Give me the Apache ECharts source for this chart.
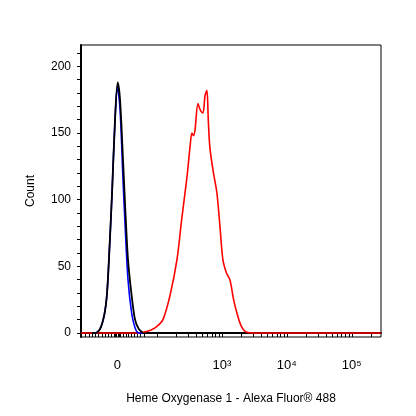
<!DOCTYPE html><html><head><meta charset="utf-8"><script src="https://cdn.jsdelivr.net/npm/echarts@6/dist/echarts.min.js"></script>
<style>body{margin:0}#c{width:416px;height:416px}</style></head><body><div id="c"></div><script>
// x in display decades (biexponential): 10^3 -> 3, 10^4 -> 4, "0" -> 1.39
const xTickValues=[1.39,3,4,5];
const xTickLabels=['0','10³','10⁴','10⁵'];
const yTickValues=[0,50,100,150,200];
const blackX=[1.00,1.046,1.123,1.19,1.231,1.27,1.308,1.354,1.395,1.431,1.477,1.51,1.554,1.61,1.662,1.72,1.785];
const blackY=[0,0,3,14,30,65,105,160,188,175,130,95,55,28,10,3,0];
const blueX=[1.00,1.046,1.123,1.19,1.231,1.27,1.308,1.354,1.39,1.431,1.477,1.51,1.554,1.61,1.662,1.72,1.785];
const blueY=[0,0,3,14,30,65,105,160,185,168,115,80,40,15,4,0,0];
const redX=[0.83,1.70,1.785,1.9,2.0,2.092,2.2,2.308,2.38,2.462,2.51,2.538,2.56,2.585,2.631,2.67,2.708,2.74,2.769,2.79,2.815,2.87,2.923,2.97,3.015,3.07,3.123,3.18,3.231,3.3,3.385,3.5,5.45];
const redY=[0,0,0.5,2,5,10,28,55,85,117,140,150,148,152,172,167,165,178,182,160,139,120,105,80,55,45,40,25,15,5,0.5,0,0];
const minorX=[];
[0.9,0.95,1.0,1.05,1.1,1.15,1.2,1.25,1.3,1.34,1.36,1.38,1.40,1.42,1.44,1.48,1.52,1.56,1.6,1.65,1.7,1.75,1.8].forEach(v=>minorX.push(v));
for(let d=2;d<5.4;d++){for(let k=1;k<10;k++){const v=d+Math.log10(k);if(v<5.45)minorX.push(v);}}
minorX.push(5+Math.log10(2),5+Math.log10(3),5+Math.log10(4));
const minorY=[];for(let v=0;v<=210;v+=10)minorY.push(v);
const pair=(a,b)=>a.map((x,i)=>[x,b[i]]);
const f='Liberation Sans';
echarts.init(document.getElementById('c')).setOption({
animation:false,
grid:{left:81,right:35,top:45,bottom:79,show:true,borderColor:'#000',borderWidth:1},
xAxis:{type:'value',min:0.83,max:5.45,name:'Heme Oxygenase 1 - Alexa Fluor® 488',nameLocation:'middle',nameGap:56,
 nameTextStyle:{fontFamily:f,fontSize:12,color:'#000'},
 axisLine:{lineStyle:{color:'#000',width:2}},splitLine:{show:false},
 axisTick:{show:true,customValues:minorX,length:4,lineStyle:{color:'#000'}},
 axisLabel:{customValues:xTickValues,formatter:v=>{const i=xTickValues.findIndex(t=>Math.abs(t-v)<1e-6);return i>=0?xTickLabels[i]:'';},margin:22,fontFamily:f,fontSize:13,color:'#000'}},
yAxis:{type:'value',min:-3,max:216,name:'Count',nameLocation:'middle',nameGap:44,
 nameTextStyle:{fontFamily:f,fontSize:12,color:'#000'},
 axisLine:{show:true,lineStyle:{color:'#000',width:2}},splitLine:{show:false},
 axisTick:{show:true,customValues:minorY,length:4,lineStyle:{color:'#000'}},
 axisLabel:{customValues:yTickValues,margin:10,fontFamily:f,fontSize:12,color:'#000'}},
series:[
{type:'line',data:pair(redX,redY),showSymbol:false,smooth:0.3,lineStyle:{color:'#ff0000',width:1.6}},
{type:'line',data:pair(blueX,blueY),showSymbol:false,smooth:0.3,lineStyle:{color:'#0000ff',width:1.6}},
{type:'line',data:pair(blackX,blackY),showSymbol:false,smooth:0.3,lineStyle:{color:'#000',width:1.8}}
]});
</script></body></html>
